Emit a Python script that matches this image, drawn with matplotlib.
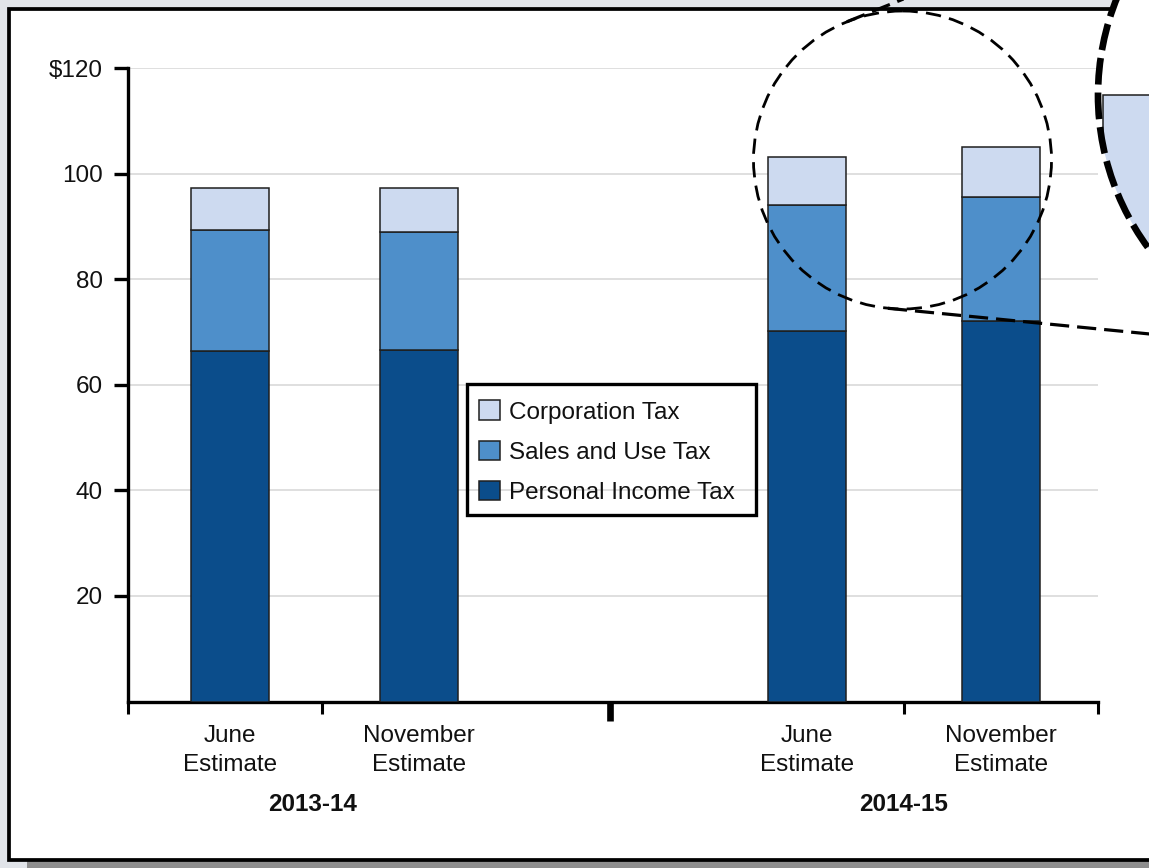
import numpy as np
import matplotlib
matplotlib.use("Agg")
import matplotlib.pyplot as plt
from matplotlib.patches import Rectangle, Circle
from matplotlib.lines import Line2D
from matplotlib import transforms

plt.rcParams['font.family'] = ['Liberation Sans', 'DejaVu Sans']

# ---- data ----
estimates = ["June\nEstimate", "November\nEstimate", "June\nEstimate", "November\nEstimate"]
fiscal_years = ["2013-14", "2014-15"]
personal_income = [66.5, 66.7, 70.2, 72.2]
sales_and_use = [22.8, 22.2, 23.9, 23.4]
corporation = [8.1, 8.5, 9.0, 9.5]
series_names = ["Personal Income Tax", "Sales and Use Tax", "Corporation Tax"]
y_ticks = [20, 40, 60, 80, 100, 120]
y_tick_labels = ["20", "40", "60", "80", "100", "$120"]

# ---- layout / style ----
W, H = 1149, 868
colors = ["#0b4d8b", "#4e8fca", "#cddaf0"]
edge = "#1f1f1f"
text_color = "#111111"
fs = 17.5
positions = np.array([1.05, 3.0, 7.0, 9.0])
bar_w = 0.8
separators = [0, 2, 8, 10]
divider = 4.97
group_x = [1.9, 8.0]

fig = plt.figure(figsize=(W / 100, H / 100), dpi=100, facecolor="#e1e4e9")

# pixel coordinates (origin top-left, y down) -> figure
pix = transforms.Affine2D().scale(1 / W, -1 / H).translate(0, 1) + fig.transFigure

# panel with drop shadow
fig.add_artist(Rectangle((26.7, 30), 1400, 860, transform=pix,
                         facecolor="#8e8e8e", edgecolor="none", zorder=-20))
fig.add_artist(Rectangle((9.2, 9.2), 1400, 850.3, transform=pix,
                         facecolor="white", edgecolor="black", lw=2.7, zorder=-10))

# ---- main chart ----
ax = fig.add_axes([128 / W, 1 - 701.5 / H, 970 / W, 633.2 / H])
ax.set_facecolor("none")

series = [personal_income, sales_and_use, corporation]


def draw_stack(target, clip=None):
    bottom = np.zeros(len(positions))
    conts = []
    for vals, c, name in zip(series, colors, series_names):
        cont = target.bar(positions, vals, bar_w, bottom=bottom, color=c,
                          edgecolor=edge, linewidth=1.1, label=name, zorder=3)
        if clip is not None:
            for p in cont:
                p.set_clip_path(clip)
        bottom = bottom + np.asarray(vals)
        conts.append(cont)
    return conts, bottom


conts, totals = draw_stack(ax)

ax.set_xlim(0, 10)
ax.set_ylim(0, 120)
ax.set_yticks(y_ticks)
ax.set_yticklabels(y_tick_labels)
ax.yaxis.grid(True, color="#d9d9d9", lw=1.2)
ax.set_axisbelow(True)
for s in ["top", "right"]:
    ax.spines[s].set_visible(False)
for s in ["left", "bottom"]:
    ax.spines[s].set_linewidth(2.4)
    ax.spines[s].set_color("black")

ax.tick_params(axis="y", length=10, width=2.4, pad=8, labelsize=fs,
               labelcolor=text_color, color="black")
ax.set_xticks(separators)
ax.set_xticklabels([])
ax.tick_params(axis="x", which="major", length=8.6, width=2.2, color="black")
ax.set_xticks(positions, estimates, minor=True)
ax.tick_params(axis="x", which="minor", length=0, pad=17, labelsize=fs,
               labelcolor=text_color)
for lbl in ax.get_xticklabels(minor=True):
    lbl.set_linespacing(1.42)

# heavy divider between fiscal years
sec = ax.secondary_xaxis("bottom")
sec.spines["bottom"].set_visible(False)
sec.set_xticks([divider])
sec.set_xticklabels([])
sec.tick_params(length=13.7, width=4.8, color="black")

blend = transforms.blended_transform_factory(ax.transData, ax.transAxes)
for gx, name in zip(group_x, fiscal_years):
    ax.text(gx, -0.1725, name, transform=blend, ha="center", va="baseline",
            fontsize=fs, fontweight="bold", color=text_color)

# legend with a square black frame
handles = [c.patches[0] for c in conts][::-1]
leg = ax.legend(handles, series_names[::-1], loc="upper left",
                bbox_to_anchor=(479 / W, 1 - 400.5 / H), bbox_transform=fig.transFigure,
                borderaxespad=0, borderpad=0, fontsize=fs, frameon=False,
                handlelength=0.86, handleheight=0.86, handletextpad=0.37,
                labelspacing=0.7)
for t in leg.get_texts():
    t.set_color(text_color)
leg.set_zorder(10)
fig.add_artist(Rectangle((467, 383.5), 288.5, 131.5, transform=pix, fill=False,
                         ec="black", lw=2.4, zorder=9))

# ---- magnifier callout ----
c1, r1 = np.array([902.5, 160.0]), 149.0
c2, r2 = np.array([1356.0, 95.0]), 258.0

fig.add_artist(Circle(tuple(c1), r1, transform=pix, fill=False, ec="black",
                      lw=2.0, ls=(0, (5.5, 3)), zorder=4))

d = c2 - c1
L = np.hypot(*d)
phi = np.arctan2(d[1], d[0])
beta = np.arccos((r2 - r1) / L)
for sgn in (1, -1):
    ang = phi + sgn * beta
    n = np.array([np.cos(ang), np.sin(ang)])
    p1 = c1 - r1 * n
    p2 = c2 - r2 * n
    fig.add_artist(Line2D([p1[0], p2[0]], [p1[1], p2[1]], transform=pix,
                          color="black", lw=2.3, ls=(0, (6, 2.5)), zorder=4))

ax_in = fig.add_axes([(c2[0] - r2) / W, 1 - (c2[1] + r2) / H, 2 * r2 / W, 2 * r2 / H],
                     zorder=5)
ax_in.set_axis_off()
disc = Circle((0.5, 0.5), 0.5, transform=ax_in.transAxes, facecolor="white",
              edgecolor="none", zorder=0)
ax_in.add_patch(disc)
draw_stack(ax_in, clip=disc)
left_edge = positions[-1] - bar_w / 2
ax_in.set_xlim(left_edge - 0.015, left_edge + 1.505)
ax_in.set_ylim(totals[-1] - 14, totals[-1] + 14)
ax_in.add_patch(Circle((0.5, 0.5), 0.5, transform=ax_in.transAxes, fill=False,
                       ec="black", lw=4.8, ls=(0, (4, 1.2)), zorder=10, clip_on=False))

fig.savefig("out.png", dpi=100, facecolor=fig.get_facecolor())
